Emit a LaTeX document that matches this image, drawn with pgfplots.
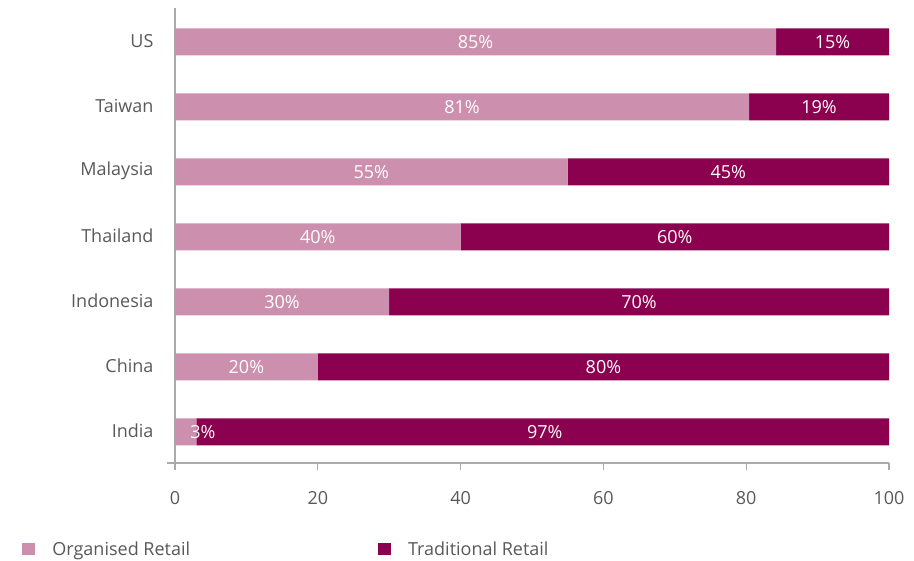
\documentclass[border=0pt]{standalone}
\usepackage{fontspec}
\setmainfont{Open Sans}
\usepackage{pgfplots}
\pgfplotsset{compat=1.18}
\definecolor{org}{RGB}{204,143,173}
\definecolor{trad}{RGB}{140,0,80}
\definecolor{axgray}{RGB}{170,170,170}
\definecolor{txt}{RGB}{89,89,89}
\begin{document}
\begin{tikzpicture}[x=1pt,y=1pt]
\useasboundingbox (0,0) rectangle (914,561);
\pgfplotsset{common/.style={at={(175pt,98pt)}, anchor=south west, scale only axis,
  width=714pt, height=455pt, xmin=0, xmax=100, ymin=-0.48, ymax=6.52}}
\begin{axis}[common, xbar stacked, bar width=27pt,
  /pgf/number format/assume math mode=true,
  ytick={0,...,6}, yticklabels={India,China,Indonesia,Thailand,Malaysia,Taiwan,US},
  xtick={0,20,...,100},
  axis x line*=bottom, axis y line*=left,
  axis line style={axgray, line width=1.3pt},
  x axis line style={shorten <=-8pt},
  ytick style={draw=none},
  xtick style={axgray, line width=1.3pt},
  tick align=outside, major tick length=7pt,
  yticklabel style={font=\fontsize{18}{18}\selectfont, text=txt, xshift=-11pt, yshift=1pt},
  xticklabel style={font=\fontsize{18}{18}\selectfont, text=txt, yshift=-18pt},
  legend style={draw=none, legend columns=2, at={(-0.214,-0.189)}, anchor=west,
    font=\fontsize{18}{18}\selectfont, text=txt, inner sep=0pt,
    /tikz/every odd column/.append style={column sep=15pt},
    /tikz/every even column/.append style={column sep=186pt}},
  legend image code/.code={\fill[#1] (0pt,-6pt) rectangle (13pt,6pt);},
]
\addplot[fill=org, draw=none] coordinates {(3,0) (20,1) (30,2) (40,3) (55,4) (80.4,5) (84.2,6)};
\addplot[fill=trad, draw=none] coordinates {(97,0) (80,1) (70,2) (60,3) (45,4) (19.6,5) (15.8,6)};
\legend{Organised Retail, Traditional Retail}
\end{axis}
\begin{axis}[common, hide axis]
\addplot[draw=none, mark=none, nodes near coords, point meta=explicit symbolic,
  nodes near coords align={center},
  every node near coord/.style={anchor=center, text=white, font=\fontsize{18}{18}\selectfont}]
  coordinates {
  (3.9,0) [3\%] (10,1) [20\%] (15,2) [30\%] (20,3) [40\%] (27.5,4) [55\%] (40.2,5) [81\%] (42.1,6) [85\%]
  (51.8,0) [97\%] (60,1) [80\%] (65,2) [70\%] (70,3) [60\%] (77.5,4) [45\%] (90.2,5) [19\%] (92.1,6) [15\%]
  };
\end{axis}
\end{tikzpicture}
\end{document}
